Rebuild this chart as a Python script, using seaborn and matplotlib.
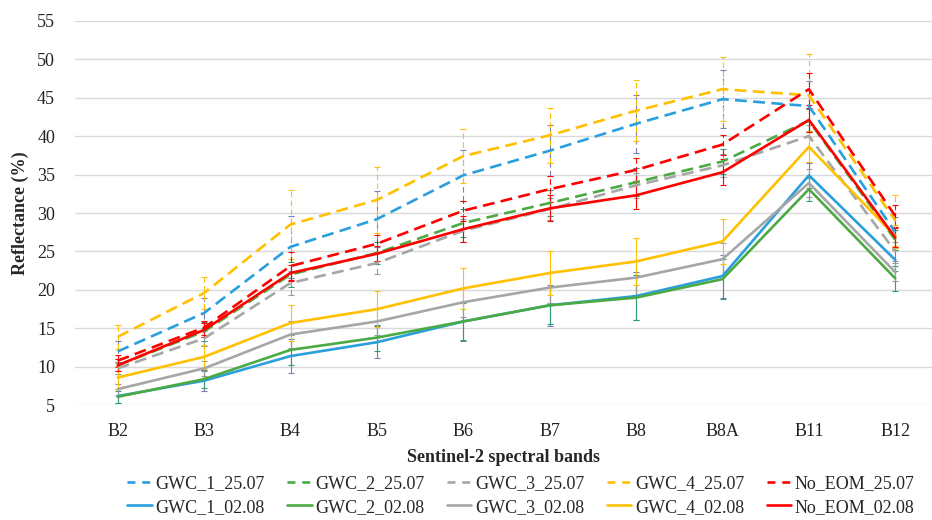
import matplotlib
matplotlib.use("Agg")
import matplotlib.pyplot as plt
import seaborn as sns
import pandas as pd
from matplotlib.lines import Line2D

bands = ["B2", "B3", "B4", "B5", "B6", "B7", "B8", "B8A", "B11", "B12"]

gwc1_2507 = [12.0, 17.0, 25.6, 29.2, 34.9, 38.1, 41.6, 44.8, 43.9, 27.5]
gwc2_2507 = [10.2, 14.6, 22.0, 24.8, 28.7, 31.3, 34.0, 36.7, 42.0, 26.5]
gwc3_2507 = [9.8, 13.7, 20.9, 23.5, 27.7, 30.5, 33.6, 36.2, 40.0, 25.0]
gwc4_2507 = [13.9, 19.6, 28.5, 31.7, 37.4, 40.1, 43.3, 46.1, 45.3, 29.0]
noeom_2507 = [10.8, 15.1, 23.1, 26.0, 30.3, 33.1, 35.6, 38.9, 46.1, 29.6]
gwc1_0208 = [6.2, 8.2, 11.4, 13.2, 15.9, 18.0, 19.2, 21.8, 34.9, 23.9]
gwc2_0208 = [6.1, 8.4, 12.2, 13.8, 15.9, 18.0, 19.0, 21.4, 33.1, 21.5]
gwc3_0208 = [7.1, 9.8, 14.2, 15.9, 18.4, 20.3, 21.6, 24.0, 33.9, 22.3]
gwc4_0208 = [8.6, 11.3, 15.7, 17.5, 20.2, 22.2, 23.7, 26.3, 38.6, 27.0]
noeom_0208 = [10.2, 14.8, 22.2, 24.7, 27.9, 30.6, 32.3, 35.3, 42.1, 26.8]

e_gwc1_2507 = [1.4, 1.9, 4.0, 3.6, 3.3, 3.3, 3.8, 3.8, 3.2, 2.0]
e_gwc2_2507 = [0.8, 1.2, 1.6, 1.4, 1.8, 1.7, 1.8, 1.6, 1.5, 1.3]
e_gwc3_2507 = [0.7, 1.0, 1.6, 1.4, 1.5, 1.4, 1.6, 1.5, 1.5, 1.2]
e_gwc4_2507 = [1.6, 2.1, 4.5, 4.3, 3.5, 3.6, 4.0, 4.2, 5.4, 3.3]
e_noeom_2507 = [0.8, 0.9, 1.8, 1.2, 1.3, 1.7, 1.5, 1.3, 2.1, 1.4]
e_gwc1_0208 = [0.9, 1.3, 2.2, 2.1, 2.5, 2.7, 3.1, 2.8, 1.6, 1.5]
e_gwc2_0208 = [0.8, 1.2, 1.9, 1.7, 2.4, 2.4, 2.9, 2.6, 1.5, 1.6]
e_gwc3_0208 = [0.7, 1.0, 1.8, 1.7, 1.9, 2.0, 2.2, 2.1, 1.8, 1.2]
e_gwc4_0208 = [1.5, 1.6, 2.3, 2.3, 2.7, 2.9, 3.0, 2.9, 2.0, 1.5]
e_noeom_0208 = [0.8, 0.9, 1.0, 1.0, 1.7, 1.7, 1.8, 1.7, 1.6, 1.2]

series = [
    ("GWC_1_25.07", gwc1_2507, e_gwc1_2507, "#2A9FDD", "#7B7DB5", True),
    ("GWC_2_25.07", gwc2_2507, e_gwc2_2507, "#4CAA44", "#2E9E78", True),
    ("GWC_3_25.07", gwc3_2507, e_gwc3_2507, "#A6A6A6", "#9A9A9A", True),
    ("GWC_4_25.07", gwc4_2507, e_gwc4_2507, "#FFC000", "#FFC000", True),
    ("No_EOM_25.07", noeom_2507, e_noeom_2507, "#FF0000", "#FF0000", True),
    ("GWC_1_02.08", gwc1_0208, e_gwc1_0208, "#2A9FDD", "#7B7DB5", False),
    ("GWC_2_02.08", gwc2_0208, e_gwc2_0208, "#4CAA44", "#2E9E78", False),
    ("GWC_3_02.08", gwc3_0208, e_gwc3_0208, "#A6A6A6", "#9A9A9A", False),
    ("GWC_4_02.08", gwc4_0208, e_gwc4_0208, "#FFC000", "#FFC000", False),
    ("No_EOM_02.08", noeom_0208, e_noeom_0208, "#FF0000", "#FF0000", False),
]

sns.set_theme(style="white")
plt.rcParams["font.family"] = ["Liberation Serif", "DejaVu Serif"]

fig = plt.figure(figsize=(9.32, 5.2), dpi=100)
ax = fig.add_axes([74.5 / 932, 1 - 405.3 / 520, 1 - 74.5 / 932, (405.3 - 20.7) / 520])

xpos = list(range(len(bands)))
handles = {}
for label, vals, errs, col, ecol, dashed in series:
    df = pd.DataFrame({"x": xpos, "y": vals})
    eb = ax.errorbar(xpos, vals, yerr=errs, fmt="none", ecolor=ecol,
                     elinewidth=0.8, capsize=2.5, capthick=0.8, zorder=2)
    if dashed:
        eb[2][0].set_linestyle((0, (5, 3)))
    sns.lineplot(data=df, x="x", y="y", ax=ax, color=col, linewidth=1.9,
                 sort=False, zorder=3)
    ln = ax.lines[-1]
    if dashed:
        ln.set_dashes((4.5, 2.4))
    handles[label] = Line2D([], [], color=col, linewidth=1.9,
                            dashes=(3.0, 2.6) if dashed else (None, None))

ax.set_xlim(-0.5, (932 - 117.7) / 86.4)
ax.set_ylim(5, 55)
ax.set_yticks(range(5, 56, 5))
ax.set_xticks(xpos)
ax.set_xticklabels(bands)
ax.grid(axis="y", color="#D9D9D9", linewidth=1.0)
ax.grid(axis="x", visible=False)
for s in ax.spines.values():
    s.set_visible(False)
ax.tick_params(axis="y", length=0, pad=14, labelsize=13, colors="#222222")
ax.tick_params(axis="x", length=0, pad=13, labelsize=13, colors="#222222")
ax.set_xlabel("Sentinel-2 spectral bands", fontsize=13, fontweight="bold", labelpad=6)
ax.set_ylabel("Reflectance (%)", fontsize=13, fontweight="bold", labelpad=6)

order = []
for a, b in zip(series[:5], series[5:]):
    order += [a[0], b[0]]
fig.legend([handles[k] for k in order], order, loc="center",
           bbox_to_anchor=(0.559, 0.047), ncol=5, frameon=False,
           fontsize=13, handlelength=1.35, handletextpad=0.2,
           columnspacing=1.25, labelspacing=0.35)

fig.savefig("out.png", dpi=100)
